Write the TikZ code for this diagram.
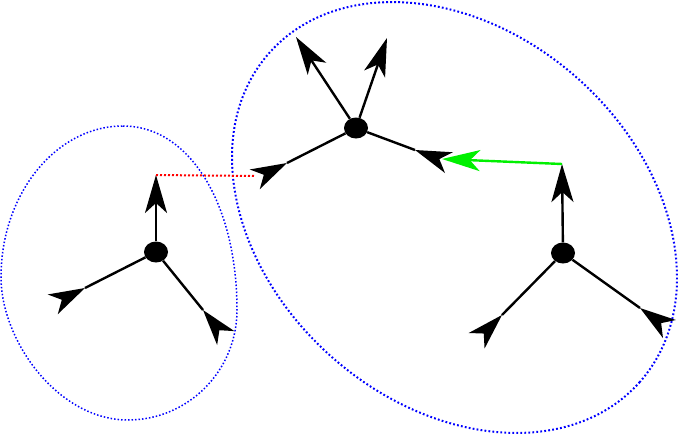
\documentclass[tikz,border=0pt]{standalone}
\usetikzlibrary{arrows.meta,shapes.geometric,calc}
\definecolor{dotblue}{RGB}{0,0,255}
\definecolor{dotred}{RGB}{255,0,0}
\definecolor{brightgreen}{RGB}{0,240,0}
\begin{document}
\begin{tikzpicture}[x=1pt,y=1pt,
  vert/.style={ellipse, fill=black, inner sep=0pt, minimum width=24pt, minimum height=21pt},
  outarrow/.style={line width=2.4pt, -{Stealth[length=38pt,width=22pt,inset=10pt]}},
  stub/.style={line width=2.4pt},
  inhead/.style={line width=2.4pt, -{Stealth[length=36pt,width=22pt,inset=10pt]}},
  greenarrow/.style={line width=2.4pt, draw=brightgreen, -{Stealth[length=38pt,width=21pt,inset=10pt]}},
  reddots/.style={line width=2pt, draw=dotred, dash pattern=on 2pt off 2pt},
  bluebig/.style={line width=2pt, draw=dotblue, dash pattern=on 1.8pt off 2.2pt},
  bluesmall/.style={line width=1.5pt, draw=dotblue, dash pattern=on 1.5pt off 2pt}]
\useasboundingbox (0,0) rectangle (678,-434);

% groups
\draw[bluebig] (454.5,-217.5) circle [x radius=247.8pt, y radius=185.8pt, rotate=-41.7];
\draw[bluesmall] (123,-126) .. controls (189,-126) and (237,-203) .. (237,-310)
  .. controls (237,-371) and (188,-420) .. (128,-420)
  .. controls (58,-420) and (1,-341) .. (1,-277)
  .. controls (1,-194) and (56,-126) .. (123,-126) -- cycle;

% vertices
\node[vert] (L) at (156,-252) {};
\node[vert] (M) at (356,-128) {};
\node[vert] (R) at (563,-253) {};

% half-edge ends
\coordinate (L1) at (156,-175);
\coordinate (L2) at (85,-288);
\coordinate (L3) at (203,-310);
\coordinate (M1) at (296,-37);
\coordinate (M2) at (387,-38);
\coordinate (M3) at (287,-163);
\coordinate (M4) at (415,-150);
\coordinate (R1) at (562,-164);
\coordinate (R2) at (502,-315);
\coordinate (R3) at (640,-308);
\coordinate (G) at (442,-159);
\coordinate (Rd) at (255,-176);

% outgoing half-edges
\draw[outarrow] (L) -- (L1);
\draw[outarrow] (M) -- (M1);
\draw[outarrow] (M) -- (M2);
\draw[outarrow] (R) -- (R1);

% incoming half-edges
\foreach \v/\t in {L/L2, L/L3, M/M3, M/M4, R/R2, R/R3}{
  \draw[stub] (\v) -- (\t);
  \draw[inhead] ($(\t)!-24pt!(\v)$) -- (\t);
}

% links
\draw[greenarrow] (R1) -- (G);
\draw[reddots] (L1) -- (Rd);
\end{tikzpicture}
\end{document}
